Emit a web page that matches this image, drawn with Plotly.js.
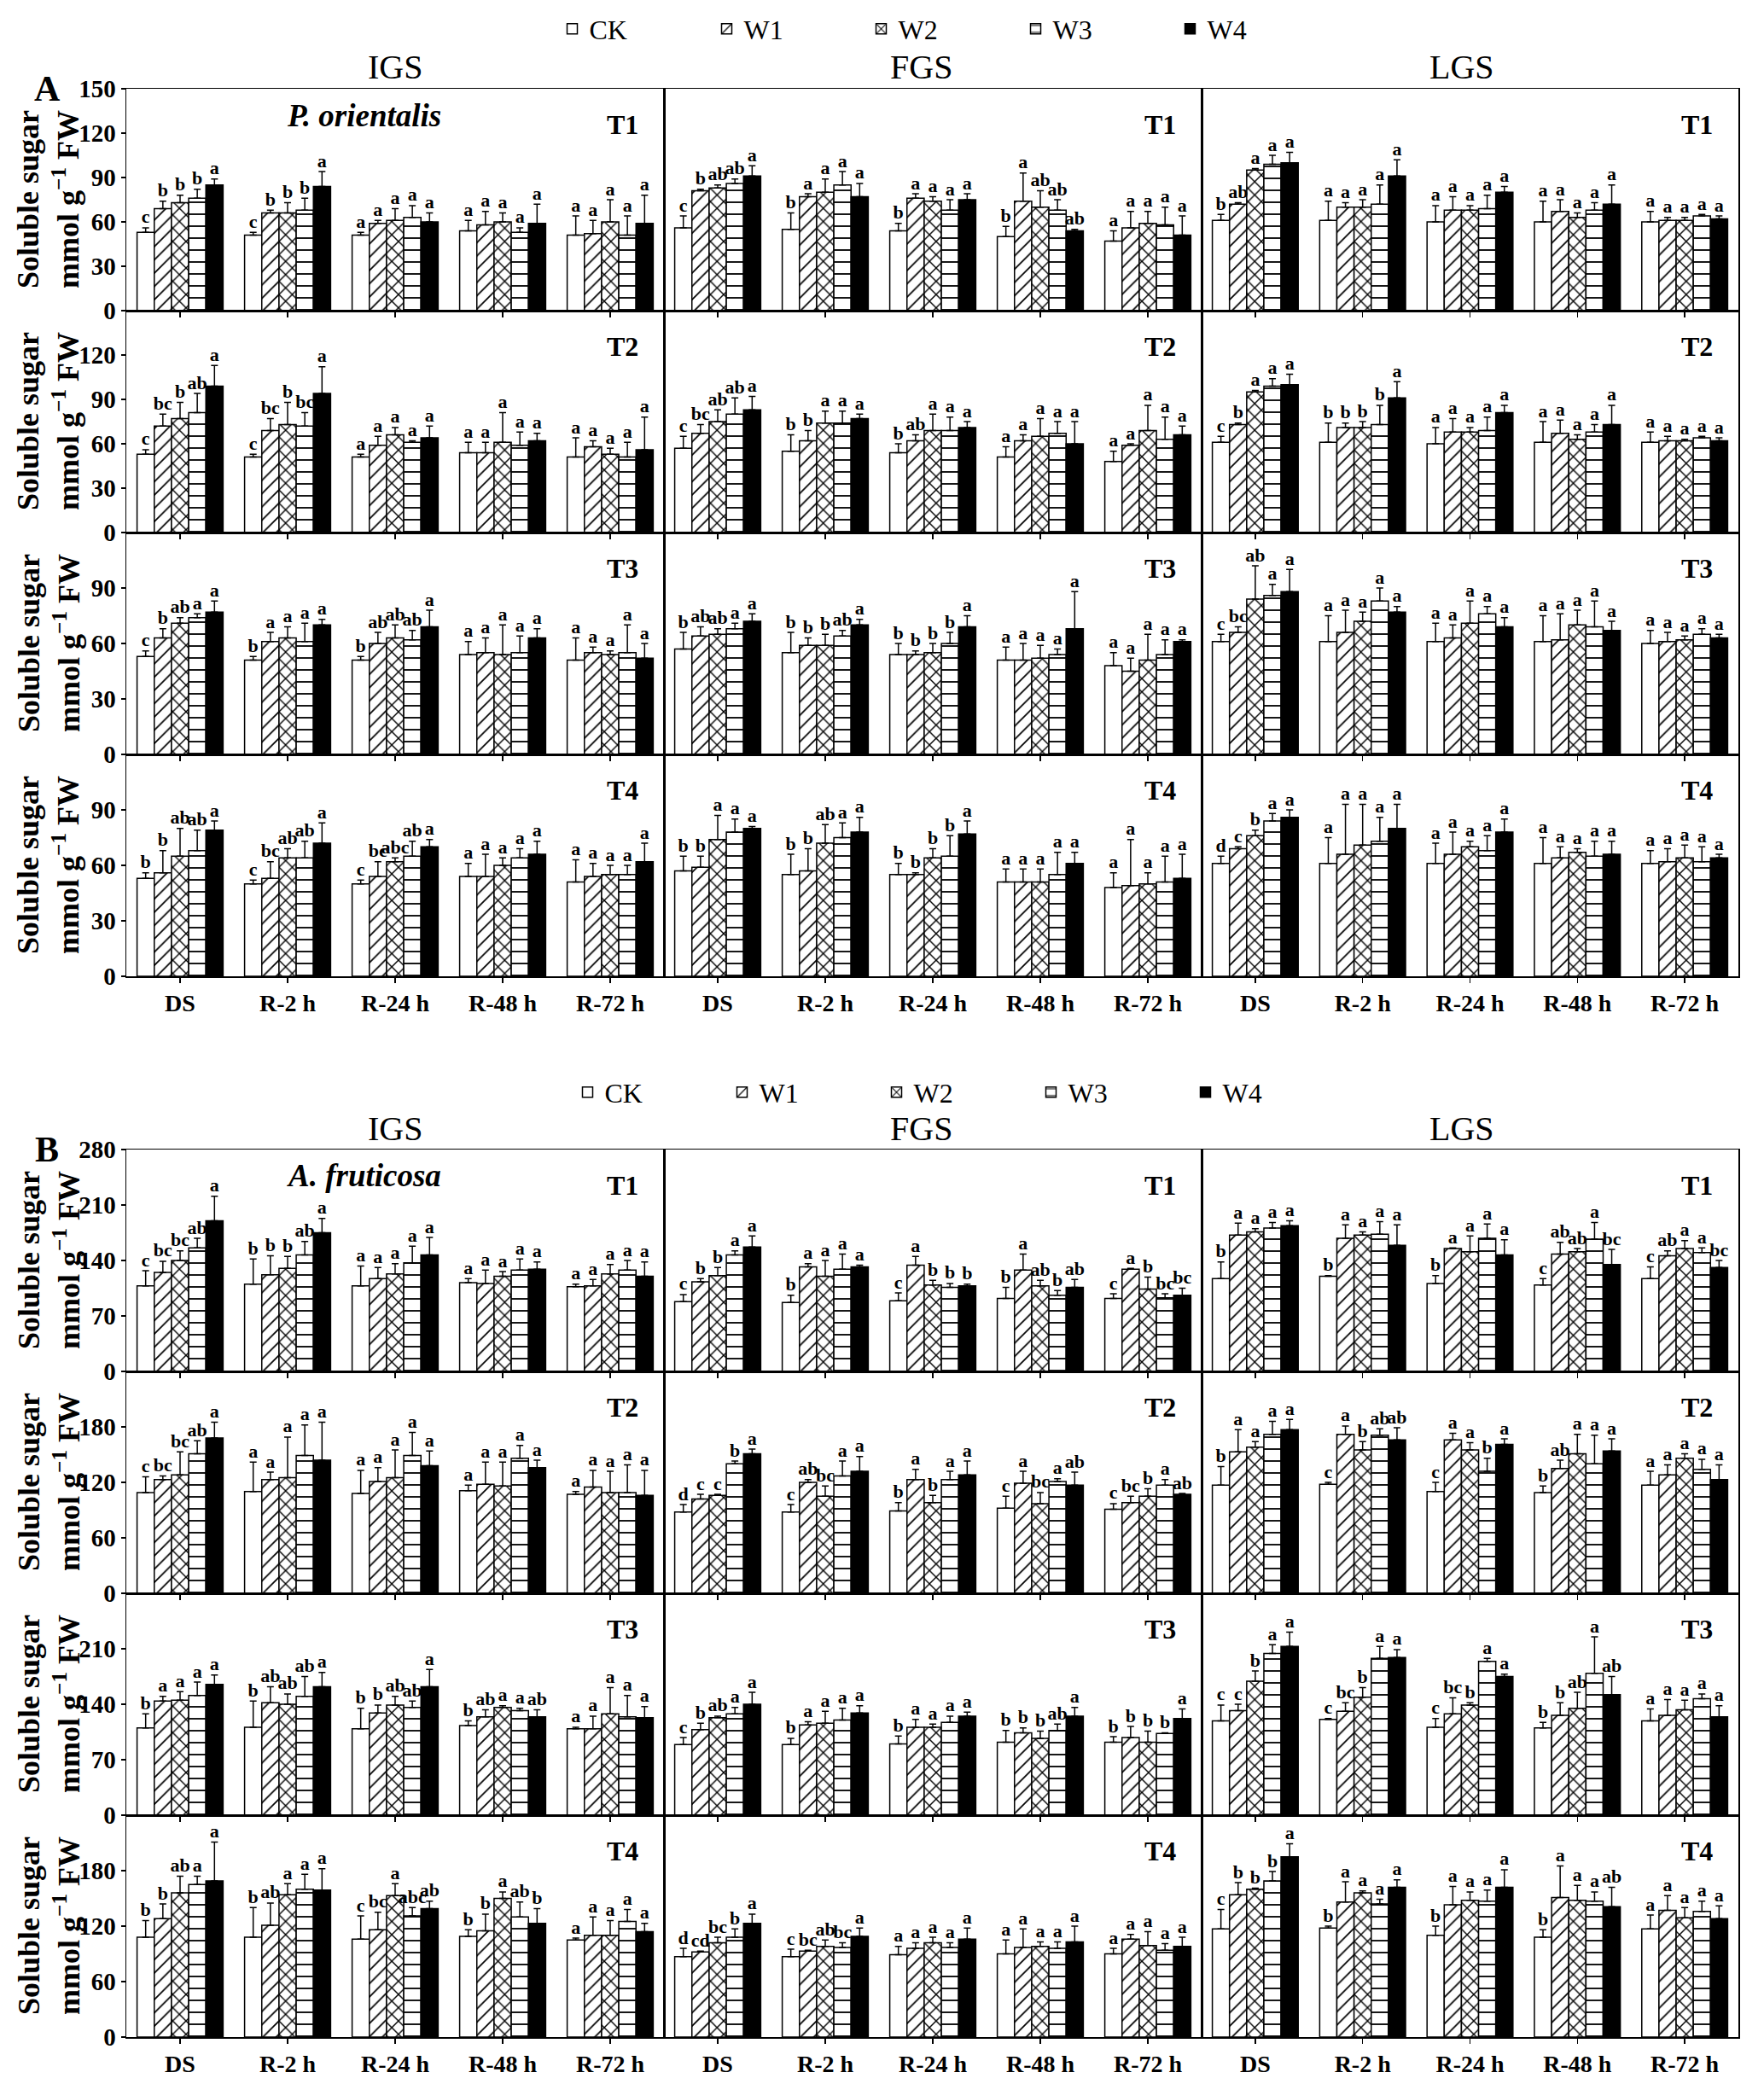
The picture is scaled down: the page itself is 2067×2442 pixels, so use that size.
<!DOCTYPE html>
<html><head><meta charset="utf-8">
<script src="https://cdn.plot.ly/plotly-3.0.1.min.js"></script>
<style>html,body{margin:0;padding:0;background:#fff}</style>
</head><body><div id="chart" style="width:2067px;height:2442px"></div>
<script>
// ---------- categories ----------
const stages = ["DS","R-2 h","R-24 h","R-48 h","R-72 h"];
const treatments = ["CK","W1","W2","W3","W4"];
const periods = ["T1","T2","T3","T4"];
const seasons = ["IGS","FGS","LGS"];
const panelLabels = ["A","B"];
const species = ["P. orientalis","A. fruticosa"];
const yTitle = "Soluble sugar<br>mmol g<sup>\u22121</sup> FW";
const yTicksA = [[0,30,60,90,120,150],[0,30,60,90,120],[0,30,60,90],[0,30,60,90]];
const yMaxA = [150,150,120,120];
const yTicksB = [[0,70,140,210,280],[0,60,120,180],[0,70,140,210],[0,60,120,180]];
const yMaxB = [280,240,280,240];

// ---------- data: rows = stages, cols = CK,W1,W2,W3,W4 ----------
// Panel A (P. orientalis)
const A_T1_IGS_m = [[53,69,73,76,85],[51,66,66,68,84],[51,59,61,63,60],[54,58,60,53,59],[51,52,60,51,59]];
const A_T1_IGS_e = [[3,5,5,6,4],[2,2,7,8,10],[2,2,8,8,6],[7,9,6,3,13],[13,9,15,13,19]];
const A_T1_IGS_s = ["c b b b a","c b b b a","a a a a a","a a a a a","a a a a a"];
const A_T1_FGS_m = [[56,81,83,86,91],[55,77,80,85,77],[54,76,74,68,75],[50,74,70,68,54],[47,56,59,58,51]];
const A_T1_FGS_e = [[8,1,2,3,7],[11,2,9,9,9],[5,3,3,7,4],[7,19,11,7,1],[7,11,8,12,13]];
const A_T1_FGS_s = ["c b ab ab a","b a a a a","b a a a a","b a ab ab ab","a a a a a"];
const A_T1_LGS_m = [[61,72,95,99,100],[61,70,70,72,91],[60,68,68,69,80],[60,67,63,68,72],[60,61,61,64,62]];
const A_T1_LGS_e = [[4,1,1,6,7],[13,3,5,13,11],[11,9,3,9,4],[14,8,3,5,13],[7,2,2,1,2]];
const A_T1_LGS_s = ["b ab a a a","a a a a a","a a a a a","a a a a a","a a a a a"];
const A_T2_IGS_m = [[53,72,77,81,99],[51,69,73,72,94],[51,59,66,61,64],[54,54,61,59,62],[51,58,53,51,56]];
const A_T2_IGS_e = [[3,8,11,13,14],[2,8,15,9,18],[2,6,5,1,8],[7,7,20,9,5],[13,4,4,10,22]];
const A_T2_IGS_s = ["c bc b ab a","c bc b bc a","a a a a a","a a a a a","a a a a a"];
const A_T2_FGS_m = [[57,67,75,80,83],[55,62,74,74,77],[54,62,69,69,71],[51,62,65,67,60],[48,59,69,63,66]];
const A_T2_FGS_e = [[8,6,8,11,9],[11,7,8,8,3],[6,4,11,9,4],[7,4,12,8,15],[7,1,17,15,6]];
const A_T2_FGS_s = ["c bc ab ab a","b b a a a","b ab a a a","a a a a a","a a a a a"];
const A_T2_LGS_m = [[61,73,95,99,100],[61,71,71,73,91],[60,68,68,69,81],[61,67,63,68,73],[61,62,62,64,62]];
const A_T2_LGS_e = [[4,1,1,5,7],[13,3,4,13,11],[11,9,3,9,5],[14,9,3,5,13],[7,3,1,1,2]];
const A_T2_LGS_s = ["c b a a a","b b b b a","a a a a a","a a a a a","a a a a a"];
const A_T3_IGS_m = [[53,63,71,74,77],[51,61,63,61,70],[51,60,63,62,69],[54,55,54,55,63],[51,55,54,55,52]];
const A_T3_IGS_e = [[3,5,3,2,6],[2,5,6,10,3],[2,6,7,5,9],[7,8,16,9,5],[12,3,2,15,8]];
const A_T3_IGS_s = ["c b ab a a","b a a a a","b ab ab ab a","a a a a a","a a a a a"];
const A_T3_FGS_m = [[57,64,65,68,72],[55,59,59,64,70],[54,54,55,60,69],[51,51,52,54,68],[48,45,51,54,61]];
const A_T3_FGS_e = [[9,5,3,3,4],[11,4,6,3,3],[6,2,5,6,6],[7,9,7,3,20],[7,7,14,8,1]];
const A_T3_FGS_s = ["b ab ab a a","b b b ab a","b b b b a","a a a a a","a a a a a"];
const A_T3_LGS_m = [[61,66,84,86,88],[61,66,72,83,77],[61,63,71,76,69],[61,62,70,69,67],[60,61,62,65,63]];
const A_T3_LGS_e = [[4,3,18,6,12],[14,12,5,7,3],[10,7,12,4,5],[14,14,8,14,5],[7,5,2,3,2]];
const A_T3_LGS_s = ["c bc ab a a","a a a a a","a a a a a","a a a a a","a a a a a"];
const A_T4_IGS_m = [[53,56,65,68,79],[50,53,64,64,72],[50,54,62,65,70],[54,54,60,64,66],[51,54,55,55,62]];
const A_T4_IGS_e = [[3,12,15,11,5],[2,9,5,9,11],[2,8,2,8,4],[7,12,4,5,7],[12,7,5,5,10]];
const A_T4_IGS_s = ["b b ab ab a","c bc ab ab a","c bc abc ab a","a a a a a","a a a a a"];
const A_T4_FGS_m = [[57,59,74,78,80],[55,57,72,75,78],[55,55,64,65,77],[51,51,51,55,61],[48,49,50,51,53]];
const A_T4_FGS_e = [[8,6,13,7,1],[11,12,10,8,8],[6,1,5,11,7],[7,7,7,12,6],[8,25,6,14,13]];
const A_T4_FGS_s = ["b b a a a","b b ab a a","b b b b a","a a a a a","a a a a a"];
const A_T4_LGS_m = [[61,69,76,84,86],[61,66,71,73,80],[61,66,70,68,78],[61,64,67,65,66],[61,62,64,62,64]];
const A_T4_LGS_e = [[4,1,3,4,4],[14,27,22,13,13],[11,12,3,8,7],[14,6,2,8,7],[7,7,7,8,2]];
const A_T4_LGS_s = ["d c b a a","a a a a a","a a a a a","a a a a a","a a a a a"];
// Panel B (A. fruticosa)
const B_T1_IGS_m = [[108,125,140,156,190],[110,122,130,147,175],[108,117,123,137,147],[112,111,120,128,129],[107,108,123,128,120]];
const B_T1_IGS_e = [[19,14,12,12,31],[32,24,15,17,18],[25,14,13,21,22],[5,17,6,14,9],[3,8,12,12,18]];
const B_T1_IGS_s = ["c bc bc ab a","b b b ab a","a a a a a","a a a a a","a a a a a"];
const B_T1_FGS_m = [[88,113,121,147,157],[87,132,120,129,132],[89,134,109,106,108],[92,128,108,96,106],[92,129,104,93,96]];
const B_T1_FGS_e = [[9,4,10,5,14],[9,4,20,19,2],[10,11,6,5,2],[14,20,7,6,10],[6,1,15,5,9]];
const B_T1_FGS_s = ["c b b a a","b a a a a","c a b b b","b a ab b ab","c a b bc bc"];
const B_T1_LGS_m = [[117,172,176,181,184],[120,168,172,173,159],[111,155,151,168,147],[109,148,151,167,135],[117,146,155,150,131]];
const B_T1_LGS_e = [[21,15,4,7,6],[1,17,4,16,26],[10,1,20,18,19],[8,15,4,21,19],[15,6,10,6,9]];
const B_T1_LGS_s = ["b a a a a","b a a a a","b a a a a","c ab ab a bc","c ab a a bc"];
const B_T2_IGS_m = [[109,123,128,151,168],[110,123,125,149,144],[108,121,125,149,138],[111,118,116,146,136],[107,115,109,109,106]];
const B_T2_IGS_e = [[17,4,25,14,17],[32,8,44,33,41],[25,15,30,25,16],[6,24,26,14,8],[3,18,23,30,27]];
const B_T2_IGS_s = ["c bc bc ab a","a a a a a","a a a a a","a a a a a","a a a a a"];
const B_T2_FGS_m = [[88,102,106,140,151],[88,120,105,127,132],[89,123,98,123,128],[92,119,97,121,117],[91,98,105,117,107]];
const B_T2_FGS_e = [[8,5,1,3,5],[8,3,11,16,16],[9,11,8,9,15],[13,13,12,3,14],[6,7,8,6,1]];
const B_T2_FGS_s = ["d c c b a","c ab bc a a","b a b a a","c a bc a ab","c bc b a ab"];
const B_T2_LGS_m = [[117,153,158,172,177],[118,172,155,171,166],[110,166,155,132,161],[109,135,151,140,154],[117,128,146,134,123]];
const B_T2_LGS_e = [[20,24,6,14,11],[2,9,9,7,13],[10,7,8,14,6],[7,9,21,31,13],[15,11,5,11,16]];
const B_T2_LGS_s = ["b a a a a","c a b ab ab","c a a b a","b ab a a a","a a a a a"];
const B_T3_IGS_m = [[110,144,145,151,165],[111,142,140,150,162],[109,129,139,136,162],[113,124,136,132,124],[109,109,128,124,123]];
const B_T3_IGS_e = [[18,6,11,17,12],[33,20,13,25,18],[26,10,11,8,22],[6,9,2,3,9],[2,16,33,27,14]];
const B_T3_IGS_s = ["b a a a a","b ab ab ab a","b b ab ab a","b ab a a ab","a a a a a"];
const B_T3_FGS_m = [[89,108,123,128,140],[89,114,116,120,129],[90,111,111,117,125],[92,104,97,107,125],[92,98,92,103,122]];
const B_T3_FGS_e = [[9,8,2,8,15],[8,4,15,15,9],[10,10,4,8,5],[15,6,9,8,11],[7,14,14,1,12]];
const B_T3_FGS_s = ["c b ab a a","b a a a a","b a a a a","b b b ab a","b b b b a"];
const B_T3_LGS_m = [[119,132,169,204,213],[121,131,149,198,199],[111,128,139,194,175],[110,126,135,179,152],[119,126,133,147,124]];
const B_T3_LGS_e = [[20,8,13,11,18],[1,11,12,15,10],[11,20,3,4,3],[7,16,20,46,23],[15,20,12,6,14]];
const B_T3_LGS_s = ["c c b a a","c bc b a a","c bc b a a","b b ab a ab","a a a a a"];
const B_T4_IGS_m = [[108,128,156,165,169],[108,121,154,160,159],[106,116,153,131,139],[109,115,150,130,123],[105,110,110,125,114]];
const B_T4_IGS_e = [[18,16,18,9,42],[32,24,12,16,23],[25,19,13,9,8],[7,18,7,16,16],[2,20,16,13,9]];
const B_T4_IGS_s = ["b b ab a a","b ab a a a","c bc a abc ab","b b a ab b","a a a a a"];
const B_T4_FGS_m = [[87,92,102,108,123],[87,93,98,97,109],[89,96,102,97,106],[90,97,98,96,103],[90,106,99,94,98]];
const B_T4_FGS_e = [[9,1,6,9,10],[8,1,7,5,9],[9,6,6,5,12],[15,20,5,7,17],[6,5,15,7,10]];
const B_T4_FGS_s = ["d cd bc b a","c bc ab bc a","a a a a a","a a a a a","a a a a a"];
const B_T4_LGS_m = [[117,154,160,169,195],[118,146,156,144,162],[110,143,148,147,162],[108,151,148,147,141],[117,137,129,136,128]];
const B_T4_LGS_e = [[21,13,1,10,14],[2,22,2,5,8],[10,20,9,12,19],[8,34,16,10,21],[15,16,11,11,14]];
const B_T4_LGS_s = ["c b b b a","b a a a a","b a a a a","b a a a ab","a a a a a"];

// ---------- lookup table built from the arrays ----------
const DATA = [
  [ [[A_T1_IGS_m,A_T1_IGS_e,A_T1_IGS_s],[A_T1_FGS_m,A_T1_FGS_e,A_T1_FGS_s],[A_T1_LGS_m,A_T1_LGS_e,A_T1_LGS_s]],
    [[A_T2_IGS_m,A_T2_IGS_e,A_T2_IGS_s],[A_T2_FGS_m,A_T2_FGS_e,A_T2_FGS_s],[A_T2_LGS_m,A_T2_LGS_e,A_T2_LGS_s]],
    [[A_T3_IGS_m,A_T3_IGS_e,A_T3_IGS_s],[A_T3_FGS_m,A_T3_FGS_e,A_T3_FGS_s],[A_T3_LGS_m,A_T3_LGS_e,A_T3_LGS_s]],
    [[A_T4_IGS_m,A_T4_IGS_e,A_T4_IGS_s],[A_T4_FGS_m,A_T4_FGS_e,A_T4_FGS_s],[A_T4_LGS_m,A_T4_LGS_e,A_T4_LGS_s]] ],
  [ [[B_T1_IGS_m,B_T1_IGS_e,B_T1_IGS_s],[B_T1_FGS_m,B_T1_FGS_e,B_T1_FGS_s],[B_T1_LGS_m,B_T1_LGS_e,B_T1_LGS_s]],
    [[B_T2_IGS_m,B_T2_IGS_e,B_T2_IGS_s],[B_T2_FGS_m,B_T2_FGS_e,B_T2_FGS_s],[B_T2_LGS_m,B_T2_LGS_e,B_T2_LGS_s]],
    [[B_T3_IGS_m,B_T3_IGS_e,B_T3_IGS_s],[B_T3_FGS_m,B_T3_FGS_e,B_T3_FGS_s],[B_T3_LGS_m,B_T3_LGS_e,B_T3_LGS_s]],
    [[B_T4_IGS_m,B_T4_IGS_e,B_T4_IGS_s],[B_T4_FGS_m,B_T4_FGS_e,B_T4_FGS_s],[B_T4_LGS_m,B_T4_LGS_e,B_T4_LGS_s]] ]
];

// ---------- styling / geometry ----------
const W = 2067, H = 2442;
const colPx = [148, 778, 1408, 2037];
const titleShiftPx = [0, -14, -10];
const panelTopPx = [104, 1347];
const rowPx = 260;
const SERIF = "Liberation Serif, Times New Roman, serif";
const BARGAP = 0.2;
const fills = [
  {color:"#ffffff"},
  {color:"#ffffff", pattern:{shape:"/", fgcolor:"#000", bgcolor:"#fff", size:11, solidity:0.16}},
  {color:"#ffffff", pattern:{shape:"x", fgcolor:"#000", bgcolor:"#fff", size:11, solidity:0.24}},
  {color:"#ffffff", pattern:{shape:"-", fgcolor:"#000", bgcolor:"#fff", size:14, solidity:0.13}},
  {color:"#000000"}
];

const traces = [];
const legendBase = {orientation:"h", xanchor:"center", yanchor:"middle",
  font:{family:SERIF, size:32}, entrywidth:136, traceorder:"normal", bgcolor:"rgba(0,0,0,0)"};
const layout = {
  width: W, height: H,
  margin: {l:0, r:0, t:0, b:0},
  paper_bgcolor: "#fff", plot_bgcolor: "#fff",
  barmode: "group", bargap: BARGAP, bargroupgap: 0,
  font: {family: SERIF, color: "#000"},
  showlegend: true,
  legend: Object.assign({x:1103/W, y:1-34/H}, legendBase),
  legend2: Object.assign({x:1121/W, y:1-1280/H}, legendBase),
  annotations: []
};

const stageIdx = stages.map((s, i) => i);
const barW = (1 - BARGAP) / treatments.length;

for (let p = 0; p < 2; p++) {
  const ticks = p === 0 ? yTicksA : yTicksB;
  const ymax = p === 0 ? yMaxA : yMaxB;
  for (let r = 0; r < 4; r++) {
    const top = panelTopPx[p] + r * rowPx, bot = top + rowPx;
    for (let c = 0; c < 3; c++) {
      const idx = p * 12 + r * 3 + c + 1;
      const xn = idx === 1 ? "x" : "x" + idx;
      const yn = idx === 1 ? "y" : "y" + idx;
      const [m, e, s] = DATA[p][r][c];
      layout["xaxis" + (idx === 1 ? "" : idx)] = {
        domain: [colPx[c] / W, colPx[c + 1] / W], anchor: yn,
        range: [-0.5, 4.5], tickvals: stageIdx, ticktext: stages,
        showticklabels: r === 3, ticks: "outside", ticklen: 6, tickwidth: 1.5, tickcolor: "#000",
        tickfont: {family: SERIF, size: 28, weight: "bold"},
        showline: true, mirror: true, linecolor: "#000", linewidth: 1.5,
        showgrid: false, zeroline: false, fixedrange: true
      };
      layout["yaxis" + (idx === 1 ? "" : idx)] = {
        domain: [1 - bot / H, 1 - top / H], anchor: xn,
        range: [0, ymax[r]], tickvals: ticks[r],
        showticklabels: c === 0, ticks: c === 0 ? "outside" : "", ticklen: 5, tickwidth: 1.5, tickcolor: "#000",
        tickfont: {family: SERIF, size: 29, weight: "bold"},
        showline: true, mirror: true, linecolor: "#000", linewidth: 1.5,
        showgrid: false, zeroline: false, fixedrange: true
      };
      for (let t = 0; t < treatments.length; t++) {
        const y = stageIdx.map(i => m[i][t]);
        const err = stageIdx.map(i => e[i][t]);
        traces.push({
          type: "bar", name: treatments[t], x: stageIdx, y: y,
          xaxis: xn, yaxis: yn,
          legend: p === 0 ? "legend" : "legend2",
          showlegend: r === 0 && c === 0,
          marker: Object.assign({line: {color: "#000", width: 1.5}}, fills[t]),
          error_y: {type: "data", array: err, arrayminus: err.map(() => 0), symmetric: false,
                    color: "#000", thickness: 1.5, width: 4},
          hoverinfo: "skip"
        });
        const off = -(1 - BARGAP) / 2 + barW * (t + 0.5);
        traces.push({
          type: "scatter", mode: "text", x: stageIdx.map(i => i + off),
          y: stageIdx.map(i => m[i][t] + e[i][t]),
          text: stageIdx.map(i => s[i].split(" ")[t]),
          textposition: "top center",
          textfont: {family: SERIF, size: 22, weight: "bold", color: "#000"},
          xaxis: xn, yaxis: yn, showlegend: false, cliponaxis: false, hoverinfo: "skip"
        });
      }
      // period label in each subplot
      layout.annotations.push({
        text: periods[r], xref: xn + " domain", yref: yn + " domain", x: 0.955, y: 0.84,
        xanchor: "right", yanchor: "middle", showarrow: false,
        font: {family: SERIF, size: 32, weight: "bold"}
      });
    }
    // y-axis title per row
    layout.annotations.push({
      text: yTitle, xref: "paper", yref: "paper", x: 57 / W, y: 1 - (top + rowPx / 2) / H,
      xanchor: "center", yanchor: "middle", textangle: -90, showarrow: false,
      font: {family: SERIF, size: 36, weight: "bold"}
    });
  }
  // column titles
  for (let c = 0; c < 3; c++) {
    layout.annotations.push({
      text: seasons[c], xref: "paper", yref: "paper",
      x: ((colPx[c] + colPx[c + 1]) / 2 + titleShiftPx[c]) / W, y: 1 - (panelTopPx[p] - 25) / H,
      xanchor: "center", yanchor: "middle", showarrow: false,
      font: {family: SERIF, size: 40}
    });
  }
  // panel letter
  layout.annotations.push({
    text: panelLabels[p], xref: "paper", yref: "paper", x: 55 / W, y: 1 - panelTopPx[p] / H,
    xanchor: "center", yanchor: "middle", showarrow: false,
    font: {family: SERIF, size: 42, weight: "bold"}
  });
  // species name
  layout.annotations.push({
    text: "<i>" + species[p] + "</i>", xref: "paper", yref: "paper", x: 426 / W, y: 1 - (panelTopPx[p] + 31) / H,
    xanchor: "center", yanchor: "middle", showarrow: false,
    font: {family: SERIF, size: 37, weight: "bold", style: "italic"}
  });
}

Plotly.newPlot("chart", traces, layout, {staticPlot: true, displayModeBar: false});
</script>
</body></html>
